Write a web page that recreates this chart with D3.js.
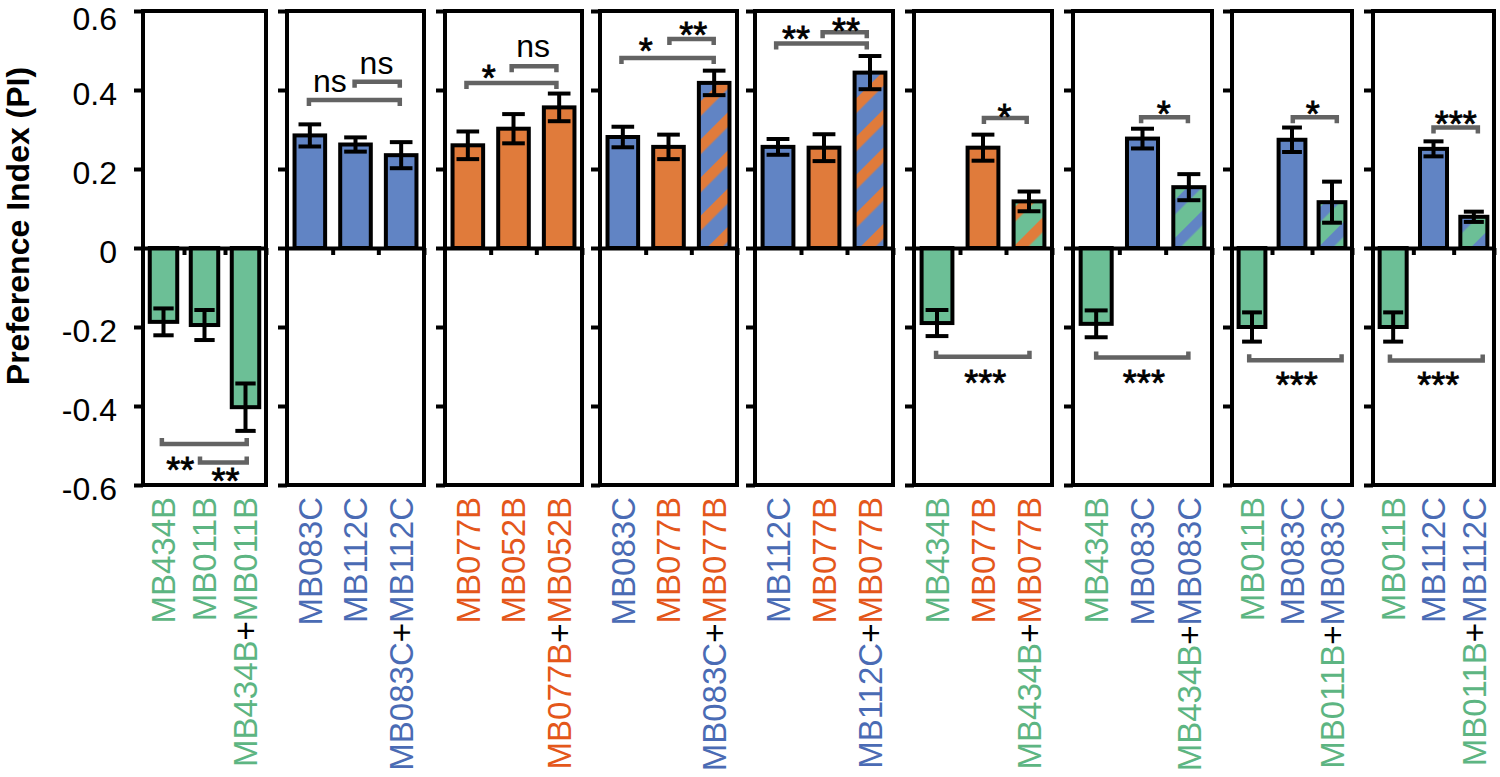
<!DOCTYPE html>
<html>
<head>
<meta charset="utf-8">
<script src="https://cdn.jsdelivr.net/npm/d3@7"></script>
<style>
  body { margin: 0; background: #fff; }
  svg { display: block; font-family: "Liberation Sans", Arial, Helvetica, sans-serif; }
</style>
</head>
<body>
<div id="viz"></div>
<script>
// strains -> colour group
const strainGroup = {
  MB434B: 'green', MB011B: 'green',
  MB083C: 'blue', MB112C: 'blue',
  MB077B: 'orange', MB052B: 'orange'
}

// categories of each panel
const panelCategories = [
  ['MB434B', 'MB011B', 'MB434B+MB011B'],
  ['MB083C', 'MB112C', 'MB083C+MB112C'],
  ['MB077B', 'MB052B', 'MB077B+MB052B'],
  ['MB083C', 'MB077B', 'MB083C+MB077B'],
  ['MB112C', 'MB077B', 'MB112C+MB077B'],
  ['MB434B', 'MB077B', 'MB434B+MB077B'],
  ['MB434B', 'MB083C', 'MB434B+MB083C'],
  ['MB011B', 'MB083C', 'MB011B+MB083C'],
  ['MB011B', 'MB112C', 'MB011B+MB112C']
]

// mean preference index
const panelValues = [
  [-0.187, -0.195, -0.403],
  [0.285, 0.262, 0.235],
  [0.260, 0.302, 0.356],
  [0.281, 0.256, 0.418],
  [0.256, 0.254, 0.444],
  [-0.190, 0.254, 0.118],
  [-0.192, 0.277, 0.154],
  [-0.200, 0.274, 0.116],
  [-0.200, 0.251, 0.079]
]

// error (sem)
const panelErrors = [
  [0.034, 0.038, 0.060],
  [0.028, 0.018, 0.033],
  [0.035, 0.037, 0.035],
  [0.026, 0.031, 0.031],
  [0.020, 0.034, 0.042],
  [0.033, 0.033, 0.025],
  [0.034, 0.025, 0.033],
  [0.037, 0.031, 0.052],
  [0.037, 0.019, 0.013]
]

const yTicks = [0.6, 0.4, 0.2, 0, -0.2, -0.4, -0.6]

// significance brackets: x in category units (0..3), y in PI
const sigBrackets = [
  {panel: 0, from: 0.46, to: 2.53, y: -0.496, legs: 'up'},
  {panel: 0, from: 1.39, to: 2.53, y: -0.543, legs: 'up'},
  {panel: 1, from: 0.48, to: 2.47, y: 0.375, legs: 'down'},
  {panel: 1, from: 1.48, to: 2.47, y: 0.421, legs: 'down'},
  {panel: 2, from: 0.47, to: 2.44, y: 0.418, legs: 'down'},
  {panel: 2, from: 1.46, to: 2.44, y: 0.460, legs: 'down'},
  {panel: 3, from: 0.47, to: 2.49, y: 0.481, legs: 'down'},
  {panel: 3, from: 1.52, to: 2.49, y: 0.529, legs: 'down'},
  {panel: 4, from: 0.46, to: 2.43, y: 0.518, legs: 'down'},
  {panel: 4, from: 1.47, to: 2.43, y: 0.546, legs: 'down'},
  {panel: 5, from: 1.52, to: 2.45, y: 0.329, legs: 'down'},
  {panel: 5, from: 0.48, to: 2.51, y: -0.275, legs: 'up'},
  {panel: 6, from: 1.47, to: 2.48, y: 0.331, legs: 'down'},
  {panel: 6, from: 0.50, to: 2.49, y: -0.277, legs: 'up'},
  {panel: 7, from: 1.52, to: 2.62, y: 0.331, legs: 'down'},
  {panel: 7, from: 0.43, to: 2.74, y: -0.284, legs: 'up'},
  {panel: 8, from: 1.50, to: 2.60, y: 0.305, legs: 'down'},
  {panel: 8, from: 0.42, to: 2.72, y: -0.285, legs: 'up'}
]

// significance marks (centre of the mark)
const sigLabels = [
  {panel: 0, text: '**', x: 0.91, y: -0.544},
  {panel: 0, text: '**', x: 2.01, y: -0.571},
  {panel: 1, text: 'ns', x: 0.94, y: 0.417},
  {panel: 1, text: 'ns', x: 1.96, y: 0.462},
  {panel: 2, text: '*', x: 0.96, y: 0.449},
  {panel: 2, text: 'ns', x: 1.93, y: 0.505},
  {panel: 3, text: '*', x: 1.00, y: 0.518},
  {panel: 3, text: '**', x: 2.04, y: 0.558},
  {panel: 4, text: '**', x: 0.89, y: 0.546},
  {panel: 4, text: '**', x: 1.98, y: 0.567},
  {panel: 5, text: '*', x: 1.97, y: 0.350},
  {panel: 5, text: '***', x: 1.55, y: -0.323},
  {panel: 6, text: '*', x: 1.96, y: 0.358},
  {panel: 6, text: '***', x: 1.53, y: -0.323},
  {panel: 7, text: '*', x: 2.02, y: 0.358},
  {panel: 7, text: '***', x: 1.62, y: -0.328},
  {panel: 8, text: '***', x: 2.05, y: 0.331},
  {panel: 8, text: '***', x: 1.62, y: -0.328}
]

const FILL = { green: '#6cbf96', blue: '#6184c4', orange: '#e07b3b' }
const TEXT_COLOR = { green: '#5db582', blue: '#4a6bb4', orange: '#e4571b' }

const LAYOUT = {
  width: 1500,
  height: 777,
  top: 11,
  bottom: 485,
  panelX: [[143, 266], [287, 424], [445, 582], [600, 737], [755, 893],
           [914, 1052], [1073, 1212], [1232, 1352], [1373, 1494]],
  labelTop: 497,
  stroke: 4,
  fontSize: 32,
  labelSize: 33,
  starSize: 36
}

const svg = d3.select('#viz').append('svg')
  .attr('width', LAYOUT.width)
  .attr('height', LAYOUT.height)

const y = d3.scaleLinear().domain([-0.6, 0.6]).range([LAYOUT.bottom, LAYOUT.top])

// stripe patterns for mixed cultures
const defs = svg.append('defs')
function pattern_id(base, stripe) {
  const id = 'stripe-' + base + '-' + stripe
  if (defs.select('#' + id).empty()) {
    const p = defs.append('pattern')
      .attr('id', id)
      .attr('patternUnits', 'userSpaceOnUse')
      .attr('width', 27).attr('height', 27)
      .attr('patternTransform', 'rotate(45)')
    p.append('rect').attr('width', 27).attr('height', 27).attr('fill', FILL[base])
    p.append('rect').attr('width', 10.5).attr('height', 27).attr('fill', FILL[stripe])
  }
  return 'url(#' + id + ')'
}

function bar_fill(cat) {
  const parts = cat.split('+').map(s => strainGroup[s])
  if (parts.length === 1 || parts[0] === parts[1]) return FILL[parts[0]]
  return pattern_id(parts[0], parts[1])
}

// y title
svg.append('text')
  .attr('transform', 'translate(18,226) rotate(-90)')
  .attr('text-anchor', 'middle')
  .attr('dy', '0.35em')
  .attr('font-weight', 'bold')
  .attr('font-size', LAYOUT.fontSize)
  .text('Preference Index (PI)')

panelCategories.forEach((cats, pi) => {
  const [x0, x1] = LAYOUT.panelX[pi]
  const g = svg.append('g').attr('class', 'panel')

  const x = d3.scaleBand().domain(d3.range(cats.length)).range([x0, x1])
    .paddingInner(0.33).paddingOuter(0.165)
  const u = d3.scaleLinear().domain([0, cats.length]).range([x0, x1])

  // frame
  g.append('rect')
    .attr('x', x0).attr('y', y(0.6))
    .attr('width', x1 - x0).attr('height', y(-0.6) - y(0.6))
    .attr('fill', 'none').attr('stroke', '#000').attr('stroke-width', LAYOUT.stroke)

  // y axis ticks
  const yAxis = d3.axisLeft(y).tickValues(yTicks).tickSize(9).tickPadding(17)
    .tickFormat(pi === 0 ? (v => v === 0 ? '0' : v.toFixed(1)) : '')
  const ya = g.append('g').attr('transform', `translate(${x0},0)`).call(yAxis)
  ya.select('.domain').remove()
  ya.selectAll('line').attr('stroke', '#000').attr('stroke-width', LAYOUT.stroke)
  ya.selectAll('text')
    .attr('font-size', LAYOUT.fontSize)
    .attr('font-family', '"Liberation Sans", Arial, sans-serif')
    .attr('fill', '#000')
    // keep the top label inside the page
    .attr('dy', d => d === 0.6 ? '0.57em' : '0.45em')

  const vals = panelValues[pi]
  const errs = panelErrors[pi]

  // bars
  g.selectAll('.bar').data(cats).enter().append('rect')
    .attr('class', 'bar')
    .attr('x', (d, i) => x(i))
    .attr('width', x.bandwidth())
    .attr('y', (d, i) => y(Math.max(0, vals[i])))
    .attr('height', (d, i) => Math.abs(y(vals[i]) - y(0)))
    .attr('fill', d => bar_fill(d))
    .attr('stroke', '#000').attr('stroke-width', LAYOUT.stroke)

  // error bars
  const capW = x.bandwidth() * 0.74
  const eb = g.selectAll('.err').data(cats).enter().append('g').attr('class', 'err')
    .attr('stroke', '#000').attr('stroke-width', LAYOUT.stroke)
  eb.append('line')
    .attr('x1', (d, i) => x(i) + x.bandwidth() / 2).attr('x2', (d, i) => x(i) + x.bandwidth() / 2)
    .attr('y1', (d, i) => y(vals[i] - errs[i])).attr('y2', (d, i) => y(vals[i] + errs[i]))
  ;[-1, 1].forEach(s => {
    eb.append('line')
      .attr('x1', (d, i) => x(i) + x.bandwidth() / 2 - capW / 2)
      .attr('x2', (d, i) => x(i) + x.bandwidth() / 2 + capW / 2)
      .attr('y1', (d, i) => y(vals[i] + s * errs[i]))
      .attr('y2', (d, i) => y(vals[i] + s * errs[i]))
  })

  // zero line with category ticks
  const xAxis = d3.axisBottom(u).tickValues(d3.range(1, cats.length + 1)).tickSize(7)
    .tickSizeOuter(0).tickFormat('')
  const xa = g.append('g').attr('transform', `translate(0,${y(0)})`).call(xAxis)
  xa.selectAll('line, path').attr('stroke', '#000').attr('stroke-width', LAYOUT.stroke)

  // significance brackets
  sigBrackets.filter(b => b.panel === pi).forEach(b => {
    const yy = y(b.y)
    const leg = b.legs === 'down' ? 6 : -6
    g.append('path')
      .attr('d', `M${u(b.from)},${yy + leg}V${yy}H${u(b.to)}V${yy + leg}`)
      .attr('fill', 'none').attr('stroke', '#636363').attr('stroke-width', 4.5)
  })
  sigLabels.filter(l => l.panel === pi).forEach(l => {
    const ns = l.text === 'ns'
    const fs = ns ? LAYOUT.fontSize : LAYOUT.starSize
    const k = ns ? 0.26 : 0.56
    g.append('text')
      .attr('x', u(l.x)).attr('y', y(l.y) + k * fs)
      .attr('text-anchor', 'middle')
      .attr('font-size', fs)
      .attr('stroke', ns ? 'none' : '#000')
      .attr('stroke-width', 0.8)
      .text(l.text)
  })

  // category labels
  cats.forEach((cat, i) => {
    const t = g.append('text')
      .attr('transform', `translate(${x(i) + x.bandwidth() / 2},${LAYOUT.labelTop}) rotate(-90)`)
      .attr('text-anchor', 'end')
      .attr('dy', '0.36em')
      .attr('font-size', LAYOUT.labelSize)
    cat.split('+').forEach((s, j) => {
      if (j > 0) t.append('tspan').attr('fill', '#000').text('+')
      t.append('tspan').attr('fill', TEXT_COLOR[strainGroup[s]]).text(s)
    })
  })
})
</script>
</body>
</html>
